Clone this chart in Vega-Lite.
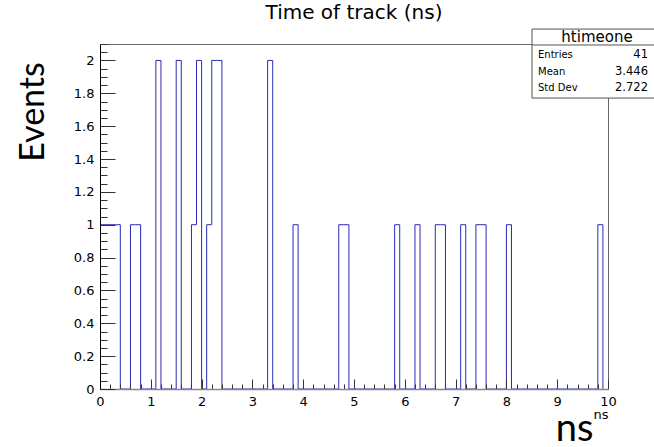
{
  "$schema": "https://vega.github.io/schema/vega-lite/v6.json",
  "width": 508,
  "height": 345,
  "autosize": {"type": "none"},
  "padding": {"left": 100, "top": 44, "right": 46, "bottom": 58},
  "background": "white",
  "config": {"view": {"stroke": "#666", "strokeWidth": 1}, "font": "DejaVu Sans"},
  "title": {"text": "Time of track (ns)", "font": "DejaVu Sans", "fontSize": 20, "fontWeight": "normal", "color": "black", "anchor": "middle", "frame": "group", "baseline": "alphabetic", "offset": 9, "dy": 19.5},
  "datasets": {
    "hist": [
      {"t":0.0,"events":1},{"t":0.1,"events":1},{"t":0.2,"events":1},{"t":0.3,"events":1},{"t":0.4,"events":0},
      {"t":0.5,"events":0},{"t":0.6,"events":1},{"t":0.7,"events":1},{"t":0.8,"events":0},{"t":0.9,"events":0},
      {"t":1.0,"events":0},{"t":1.1,"events":2},{"t":1.2,"events":0},{"t":1.3,"events":0},{"t":1.4,"events":0},
      {"t":1.5,"events":2},{"t":1.6,"events":0},{"t":1.7,"events":0},{"t":1.8,"events":1},{"t":1.9,"events":2},
      {"t":2.0,"events":0},{"t":2.1,"events":1},{"t":2.2,"events":2},{"t":2.3,"events":2},{"t":2.4,"events":0},
      {"t":2.5,"events":0},{"t":2.6,"events":0},{"t":2.7,"events":0},{"t":2.8,"events":0},{"t":2.9,"events":0},
      {"t":3.0,"events":0},{"t":3.1,"events":0},{"t":3.2,"events":0},{"t":3.3,"events":2},{"t":3.4,"events":0},
      {"t":3.5,"events":0},{"t":3.6,"events":0},{"t":3.7,"events":0},{"t":3.8,"events":1},{"t":3.9,"events":0},
      {"t":4.0,"events":0},{"t":4.1,"events":0},{"t":4.2,"events":0},{"t":4.3,"events":0},{"t":4.4,"events":0},
      {"t":4.5,"events":0},{"t":4.6,"events":0},{"t":4.7,"events":1},{"t":4.8,"events":1},{"t":4.9,"events":0},
      {"t":5.0,"events":0},{"t":5.1,"events":0},{"t":5.2,"events":0},{"t":5.3,"events":0},{"t":5.4,"events":0},
      {"t":5.5,"events":0},{"t":5.6,"events":0},{"t":5.7,"events":0},{"t":5.8,"events":1},{"t":5.9,"events":0},
      {"t":6.0,"events":0},{"t":6.1,"events":0},{"t":6.2,"events":1},{"t":6.3,"events":0},{"t":6.4,"events":0},
      {"t":6.5,"events":0},{"t":6.6,"events":1},{"t":6.7,"events":1},{"t":6.8,"events":0},{"t":6.9,"events":0},
      {"t":7.0,"events":0},{"t":7.1,"events":1},{"t":7.2,"events":0},{"t":7.3,"events":0},{"t":7.4,"events":1},
      {"t":7.5,"events":1},{"t":7.6,"events":0},{"t":7.7,"events":0},{"t":7.8,"events":0},{"t":7.9,"events":0},
      {"t":8.0,"events":1},{"t":8.1,"events":0},{"t":8.2,"events":0},{"t":8.3,"events":0},{"t":8.4,"events":0},
      {"t":8.5,"events":0},{"t":8.6,"events":0},{"t":8.7,"events":0},{"t":8.8,"events":0},{"t":8.9,"events":0},
      {"t":9.0,"events":0},{"t":9.1,"events":0},{"t":9.2,"events":0},{"t":9.3,"events":0},{"t":9.4,"events":0},
      {"t":9.5,"events":0},{"t":9.6,"events":0},{"t":9.7,"events":0},{"t":9.8,"events":1},{"t":9.9,"events":0}
    ],
    "stats": [{"name": "htimeone", "entries": "41", "mean": "3.446", "stddev": "2.722"}]
  },
  "layer": [
    {
      "data": {"name": "hist"},
      "mark": {"type": "line", "interpolate": "step-after", "color": "#2a2ab8", "strokeWidth": 1},
      "encoding": {
        "x": {
          "field": "t", "type": "quantitative",
          "scale": {"domain": [0, 10], "nice": false, "zero": false},
          "axis": {
            "orient": "bottom", "zindex": 1, "grid": false,
            "values": [0,0.2,0.4,0.6,0.8,1,1.2,1.4,1.6,1.8,2,2.2,2.4,2.6,2.8,3,3.2,3.4,3.6,3.8,4,4.2,4.4,4.6,4.8,5,5.2,5.4,5.6,5.8,6,6.2,6.4,6.6,6.8,7,7.2,7.4,7.6,7.8,8,8.2,8.4,8.6,8.8,9,9.2,9.4,9.6,9.8,10],
            "labelExpr": "abs(datum.value - round(datum.value)) < 1e-6 ? format(datum.value, 'd') : ''",
            "labelFlush": false, "labelOverlap": false,
            "labelFont": "DejaVu Sans", "labelFontSize": 13, "labelColor": "black", "labelPadding": 16,
            "tickSize": {"condition": {"test": "abs(datum.value - round(datum.value)) < 1e-6", "value": -10}, "value": -5},
            "tickColor": "#333", "domainColor": "#888", "domainWidth": 1.5,
            "title": "ns", "titleFont": "DejaVu Sans", "titleFontSize": 13, "titleFontWeight": "normal", "titleColor": "black",
            "titleX": 508, "titleY": 29, "titleAlign": "right", "titleBaseline": "alphabetic"
          }
        },
        "y": {
          "field": "events", "type": "quantitative",
          "scale": {"domain": [0, 2.1], "nice": false},
          "axis": {
            "orient": "left", "zindex": 1, "grid": false,
            "values": [0,0.05,0.1,0.15,0.2,0.25,0.3,0.35,0.4,0.45,0.5,0.55,0.6,0.65,0.7,0.75,0.8,0.85,0.9,0.95,1,1.05,1.1,1.15,1.2,1.25,1.3,1.35,1.4,1.45,1.5,1.55,1.6,1.65,1.7,1.75,1.8,1.85,1.9,1.95,2,2.05,2.1],
            "labelExpr": "abs(datum.value*5 - round(datum.value*5)) < 1e-6 ? format(datum.value, '~g') : ''",
            "labelOverlap": false, "labelFlush": false,
            "labelFont": "DejaVu Sans", "labelFontSize": 13, "labelColor": "black", "labelPadding": 21,
            "tickSize": {"condition": {"test": "abs(datum.value*5 - round(datum.value*5)) < 1e-6", "value": -15}, "value": -7},
            "tickColor": "#333", "domainColor": "black",
            "title": "Events", "titleFont": "Lato", "titleFontSize": 34, "titleFontWeight": "normal", "titleColor": "black",
            "titleX": -57, "titleY": 67.5, "titleAngle": -90, "titleAlign": "center", "titleBaseline": "alphabetic"
          }
        }
      }
    },
    {
      "data": {"name": "hist"},
      "mark": {"type": "line", "opacity": 0},
      "encoding": {
        "x": {
          "field": "t", "type": "quantitative",
          "scale": {"domain": [0, 10], "nice": false, "zero": false},
          "axis": {
            "orient": "bottom", "domain": false, "ticks": false, "labels": false, "grid": false,
            "title": "ns", "titleFont": "Lato", "titleFontSize": 38, "titleFontWeight": "normal", "titleColor": "black",
            "titleX": 474, "titleY": 51, "titleAlign": "center", "titleBaseline": "alphabetic"
          }
        },
        "y": {"field": "events", "type": "quantitative", "scale": {"domain": [0, 2.1], "nice": false}, "axis": null}
      }
    },
    {
      "data": {"name": "stats"},
      "mark": {"type": "rect", "fill": "white", "stroke": "#555", "strokeWidth": 1, "clip": false},
      "encoding": {
        "x": {"datum": 8.504, "type": "quantitative", "scale": {"domain": [0, 10], "nice": false, "zero": false}, "axis": null},
        "x2": {"datum": 11.2},
        "y": {"datum": 2.191, "type": "quantitative", "scale": {"domain": [0, 2.1], "nice": false}, "axis": null},
        "y2": {"datum": 1.771}
      }
    },
    {
      "data": {"name": "stats"},
      "mark": {"type": "rule", "color": "#555", "strokeWidth": 1, "clip": false},
      "encoding": {
        "x": {"datum": 8.504, "type": "quantitative", "scale": {"domain": [0, 10], "nice": false, "zero": false}, "axis": null},
        "x2": {"datum": 11.2},
        "y": {"datum": 2.094, "type": "quantitative", "scale": {"domain": [0, 2.1], "nice": false}, "axis": null}
      }
    },
    {
      "data": {"name": "stats"},
      "mark": {"type": "text", "font": "DejaVu Sans", "fontSize": 15, "align": "center", "baseline": "middle", "color": "black"},
      "encoding": {
        "text": {"field": "name", "type": "nominal"},
        "x": {"datum": 9.783, "type": "quantitative", "scale": {"domain": [0, 10], "nice": false, "zero": false}, "axis": null},
        "y": {"datum": 2.143, "type": "quantitative", "scale": {"domain": [0, 2.1], "nice": false}, "axis": null}
      }
    },
    {
      "data": {"name": "stats"},
      "mark": {"type": "text", "text": "Entries", "font": "DejaVu Sans", "fontSize": 10, "align": "left", "baseline": "middle", "color": "black"},
      "encoding": {
        "x": {"datum": 8.622, "type": "quantitative", "scale": {"domain": [0, 10], "nice": false, "zero": false}, "axis": null},
        "y": {"datum": 2.033, "type": "quantitative", "scale": {"domain": [0, 2.1], "nice": false}, "axis": null}
      }
    },
    {
      "data": {"name": "stats"},
      "mark": {"type": "text", "text": "Mean", "font": "DejaVu Sans", "fontSize": 10, "align": "left", "baseline": "middle", "color": "black"},
      "encoding": {
        "x": {"datum": 8.622, "type": "quantitative", "scale": {"domain": [0, 10], "nice": false, "zero": false}, "axis": null},
        "y": {"datum": 1.931, "type": "quantitative", "scale": {"domain": [0, 2.1], "nice": false}, "axis": null}
      }
    },
    {
      "data": {"name": "stats"},
      "mark": {"type": "text", "text": "Std Dev", "font": "DejaVu Sans", "fontSize": 10, "align": "left", "baseline": "middle", "color": "black"},
      "encoding": {
        "x": {"datum": 8.622, "type": "quantitative", "scale": {"domain": [0, 10], "nice": false, "zero": false}, "axis": null},
        "y": {"datum": 1.832, "type": "quantitative", "scale": {"domain": [0, 2.1], "nice": false}, "axis": null}
      }
    },
    {
      "data": {"name": "stats"},
      "mark": {"type": "text", "font": "DejaVu Sans", "fontSize": 11.5, "align": "right", "baseline": "middle", "color": "black"},
      "encoding": {
        "text": {"field": "entries", "type": "nominal"},
        "x": {"datum": 10.787, "type": "quantitative", "scale": {"domain": [0, 10], "nice": false, "zero": false}, "axis": null},
        "y": {"datum": 2.033, "type": "quantitative", "scale": {"domain": [0, 2.1], "nice": false}, "axis": null}
      }
    },
    {
      "data": {"name": "stats"},
      "mark": {"type": "text", "font": "DejaVu Sans", "fontSize": 11.5, "align": "right", "baseline": "middle", "color": "black"},
      "encoding": {
        "text": {"field": "mean", "type": "nominal"},
        "x": {"datum": 10.787, "type": "quantitative", "scale": {"domain": [0, 10], "nice": false, "zero": false}, "axis": null},
        "y": {"datum": 1.931, "type": "quantitative", "scale": {"domain": [0, 2.1], "nice": false}, "axis": null}
      }
    },
    {
      "data": {"name": "stats"},
      "mark": {"type": "text", "font": "DejaVu Sans", "fontSize": 11.5, "align": "right", "baseline": "middle", "color": "black"},
      "encoding": {
        "text": {"field": "stddev", "type": "nominal"},
        "x": {"datum": 10.787, "type": "quantitative", "scale": {"domain": [0, 10], "nice": false, "zero": false}, "axis": null},
        "y": {"datum": 1.832, "type": "quantitative", "scale": {"domain": [0, 2.1], "nice": false}, "axis": null}
      }
    }
  ],
  "resolve": {"axis": {"x": "independent", "y": "independent"}}
}
